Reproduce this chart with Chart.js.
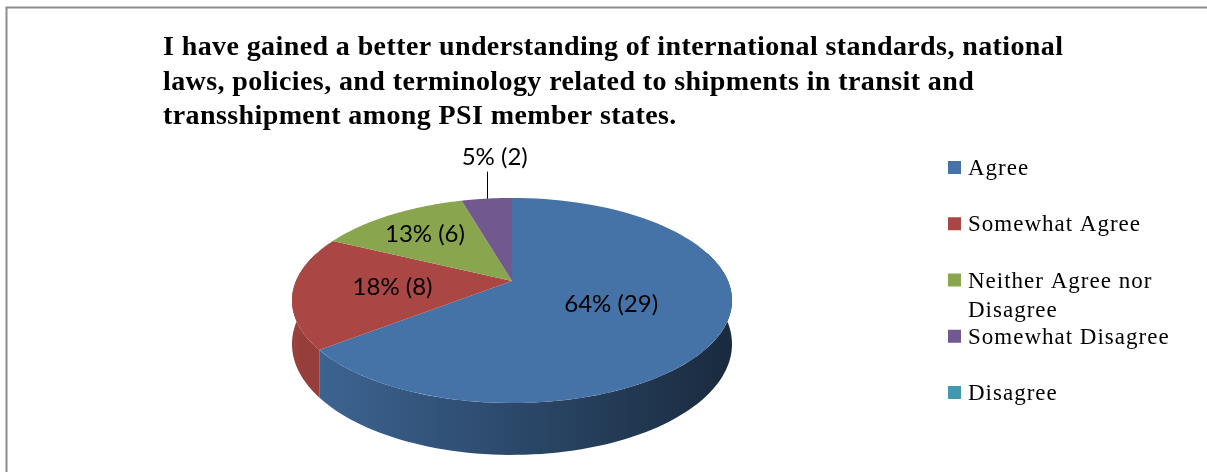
<!DOCTYPE html>
<html>
<head>
<meta charset="utf-8">
<script src="https://cdn.jsdelivr.net/npm/chart.js@4.4.0/dist/chart.umd.min.js"></script>
<style>
  html, body { margin: 0; padding: 0; background: #fff; }
  canvas { display: block; }
</style>
</head>
<body>
<canvas id="chart" width="1207" height="472"></canvas>
<script>
const TITLE_LINES = [
  'I have gained a better understanding of international standards, national',
  'laws, policies, and terminology related to shipments in transit and',
  'transshipment among PSI member states.',
];
const CATEGORIES   = ['Agree', 'Somewhat Agree', 'Neither Agree nor Disagree', 'Somewhat Disagree', 'Disagree'];
const LEGEND_LINES = [['Agree'], ['Somewhat Agree'], ['Neither Agree nor', 'Disagree'], ['Somewhat Disagree'], ['Disagree']];
const COUNTS       = [29, 8, 6, 2, 0];
const PERCENTS     = [64, 18, 13, 5, 0];
const COLORS       = ['#4572a7', '#aa4643', '#89a54e', '#71588f', '#4198af'];

// where the label sits inside its slice (fraction of radius); null = outside with a leader line
const LABEL_R = [0.49, 0.55, 0.69, null, null];

// tilted / perspective look of the Excel 3-D pie
const TILT = { sx: 1.44, sy: 0.659, k: 0.19, depth: 42 };

function project(cx, cy, R, angle, r, drop) {
  const u = Math.cos(angle) * r;
  const v = Math.sin(angle) * r;
  const w = 1 - TILT.k * v;
  return { x: cx + R * TILT.sx * u / w, y: cy + (R * TILT.sy * v + drop) / w };
}

function shade(hex, f) {
  const n = parseInt(hex.slice(1), 16);
  const r = Math.round(((n >> 16) & 255) * f);
  const g = Math.round(((n >> 8) & 255) * f);
  const b = Math.round((n & 255) * f);
  return `rgb(${r}, ${g}, ${b})`;
}

const pie3d = {
  id: 'pie3d',

  beforeDraw(chart) {
    const ctx = chart.ctx;
    ctx.save();
    ctx.fillStyle = '#ffffff';
    ctx.fillRect(0, 0, chart.width, chart.height);

    // frame
    ctx.strokeStyle = '#8c8c8c';
    ctx.lineWidth = 2;
    ctx.beginPath();
    ctx.moveTo(chart.width, 7.5);
    ctx.lineTo(6.5, 7.5);
    ctx.lineTo(6.5, chart.height);
    ctx.stroke();

    // title
    ctx.fillStyle = '#000';
    ctx.font = 'bold 28px "Liberation Serif"';
    ctx.letterSpacing = '0.4px';
    ctx.textAlign = 'left';
    ctx.textBaseline = 'alphabetic';
    TITLE_LINES.forEach((line, i) => ctx.fillText(line, 163, 55 + i * 34.5));
    ctx.restore();
  },

  beforeDatasetsDraw(chart) {
    const ctx  = chart.ctx;
    const arcs = chart.getDatasetMeta(0).data;
    const cx = arcs[0].x, cy = arcs[0].y, R = arcs[0].outerRadius;
    const left = cx - R * TILT.sx, right = cx + R * TILT.sx;
    const STEPS = 90;

    ctx.save();

    // front wall
    arcs.forEach((arc, i) => {
      const a1 = Math.max(arc.startAngle, -0.3);
      const a2 = Math.min(arc.endAngle, Math.PI + 0.3);
      if (a2 <= a1) return;
      ctx.beginPath();
      for (let s = 0; s <= STEPS; s++) {
        const p = project(cx, cy, R, a1 + (a2 - a1) * s / STEPS, 1, 0);
        if (s === 0) ctx.moveTo(p.x, p.y); else ctx.lineTo(p.x, p.y);
      }
      for (let s = STEPS; s >= 0; s--) {
        const p = project(cx, cy, R, a1 + (a2 - a1) * s / STEPS, 1, TILT.depth);
        ctx.lineTo(p.x, p.y);
      }
      ctx.closePath();
      const grad = ctx.createLinearGradient(left, 0, right, 0);
      grad.addColorStop(0, shade(COLORS[i], 0.9));
      grad.addColorStop(1, shade(COLORS[i], 0.38));
      ctx.fillStyle = grad;
      ctx.fill();
    });

    // top faces
    arcs.forEach((arc, i) => {
      if (arc.endAngle - arc.startAngle <= 0) return;
      ctx.beginPath();
      ctx.moveTo(cx, cy);
      for (let s = 0; s <= STEPS; s++) {
        const a = arc.startAngle + (arc.endAngle - arc.startAngle) * s / STEPS;
        const p = project(cx, cy, R, a, 1, 0);
        ctx.lineTo(p.x, p.y);
      }
      ctx.closePath();
      ctx.fillStyle = COLORS[i];
      ctx.fill();
    });

    ctx.restore();
    return false;
  },

  afterDraw(chart) {
    const ctx  = chart.ctx;
    const arcs = chart.getDatasetMeta(0).data;
    const cx = arcs[0].x, cy = arcs[0].y, R = arcs[0].outerRadius;

    ctx.save();

    // data labels
    ctx.font = '24px Lato';
    ctx.fillStyle = '#000';
    ctx.textAlign = 'center';
    ctx.textBaseline = 'alphabetic';
    arcs.forEach((arc, i) => {
      if (!COUNTS[i]) return;
      const text = `${PERCENTS[i]}% (${COUNTS[i]})`;
      const mid  = (arc.startAngle + arc.endAngle) / 2;
      if (LABEL_R[i] !== null) {
        const p = project(cx, cy, R, mid, LABEL_R[i], 0);
        ctx.fillText(text, p.x, p.y + 8.5);
      } else {
        const p = project(cx, cy, R, mid, 1, 0);
        ctx.strokeStyle = '#000';
        ctx.lineWidth = 1;
        ctx.beginPath();
        ctx.moveTo(Math.round(p.x) + 0.5, p.y);
        ctx.lineTo(Math.round(p.x) + 0.5, p.y - 27);
        ctx.stroke();
        ctx.fillText(text, p.x + 8, p.y - 34);
      }
    });

    // legend
    ctx.font = '23px "Liberation Serif"';
    ctx.letterSpacing = '1px';
    ctx.textAlign = 'left';
    LEGEND_LINES.forEach((lines, i) => {
      const top = 161 + i * 56.25;
      ctx.fillStyle = COLORS[i];
      ctx.fillRect(948, top, 13, 13);
      ctx.fillStyle = '#000';
      lines.forEach((line, j) => ctx.fillText(line, 968, top + 14 + j * 29));
    });

    ctx.restore();
  },
};

new Chart(document.getElementById('chart'), {
  type: 'pie',
  data: {
    labels: CATEGORIES,
    datasets: [{
      data:            COUNTS,
      backgroundColor: COLORS,
      borderWidth:     0,
      hoverOffset:     0,
    }],
  },
  options: {
    responsive: false,
    animation:  false,
    events:     [],
    layout: { padding: { left: 362, right: 545, top: 131, bottom: 41 } },
    plugins: {
      legend:  { display: false },
      title:   { display: false },
      tooltip: { enabled: false },
    },
  },
  plugins: [pie3d],
});
</script>
</body>
</html>
